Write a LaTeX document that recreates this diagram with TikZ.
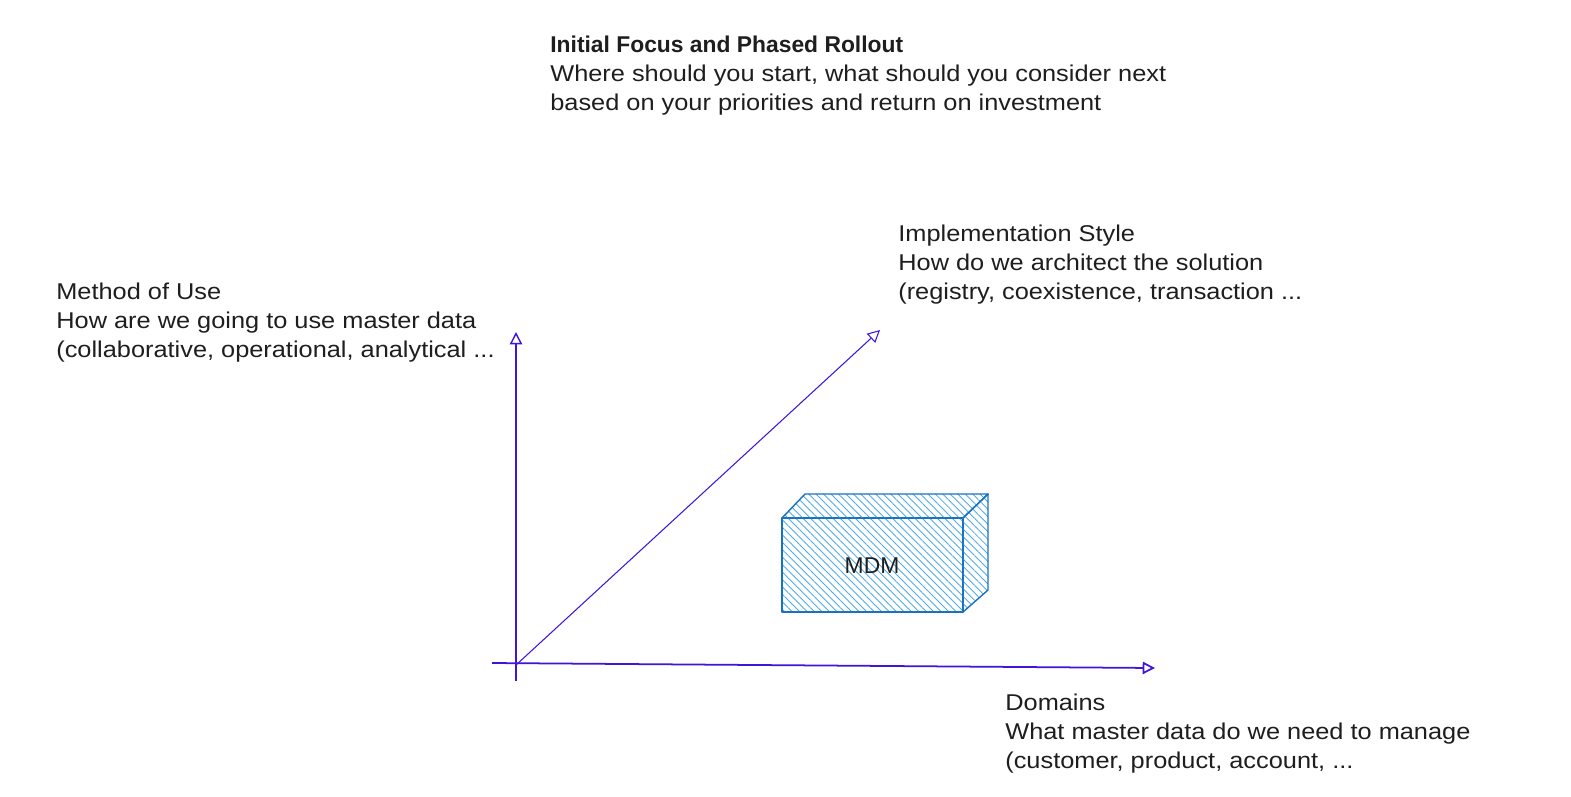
\documentclass[tikz,border=0pt]{standalone}
\usepackage{fontspec}
\setmainfont{Liberation Sans}[FakeStretch=1.11]
\newfontfamily\titlefont{Liberation Sans}
\usetikzlibrary{arrows.meta,patterns.meta}
\definecolor{axisblue}{RGB}{65,20,220}
\definecolor{boxblue}{RGB}{25,113,194}
\definecolor{hatchblue}{RGB}{80,170,230}
\definecolor{inkblack}{RGB}{30,30,30}
\tikzset{
  axis/.style={axisblue,thick,-{Triangle[open,length=7pt,width=7pt]}},
  face/.style={draw=boxblue,thick,line join=round,pattern={Lines[angle=-45,distance=3pt,line width=0.5pt]},pattern color=hatchblue},
  caption/.style={anchor=north west,inner sep=0pt,align=left,text=inkblack,font=\fontsize{13}{16.5}\selectfont}
}

\begin{document}
\begin{tikzpicture}[x=0.02cm,y=-0.02cm]
    \useasboundingbox (0,0) rectangle (1571,796);
        \coordinate(O) at (516,665);
        \coordinate(Ybot) at (516,681);
        \coordinate(Y) at (516,332);
        \coordinate(Xleft) at (492,663);
        \coordinate(X) at (1155,668);
        \coordinate(Z) at (880,330);
        \draw[axis] (Ybot)--(Y);
        \draw[axis,line width=1pt] (Xleft)--(X);
        \draw[axis,semithick] (O)--(Z);
        \coordinate(A) at (782,518);
        \coordinate(B) at (963,518);
        \coordinate(C) at (963,612);
        \coordinate(D) at (782,612);
        \coordinate(E) at (805,494);
        \coordinate(F) at (988,494);
        \coordinate(G) at (988,590);
        \draw[face] (A)--(B)--(C)--(D)--cycle;
        \draw[face] (A)--(E)--(F)--(B)--cycle;
        \draw[face] (B)--(F)--(G)--(C)--cycle;
        \node[text=inkblack,font=\titlefont\fontsize{13}{16.5}\selectfont] (mdm) at (872,566) {MDM};
        \node[caption] (focus) at (550,36) {{\titlefont\bfseries Initial Focus and Phased Rollout}\\Where should you start, what should you consider next\\based on your priorities and return on investment};
        \node[caption] (method) at (56,283) {Method of Use\\How are we going to use master data\\(collaborative, operational, analytical ...};
        \node[caption] (style) at (898,225) {Implementation Style\\How do we architect the solution\\(registry, coexistence, transaction ...};
        \node[caption] (domains) at (1005,694) {Domains\\What master data do we need to manage\\(customer, product, account, ...};
    \end{tikzpicture}
\end{document}
